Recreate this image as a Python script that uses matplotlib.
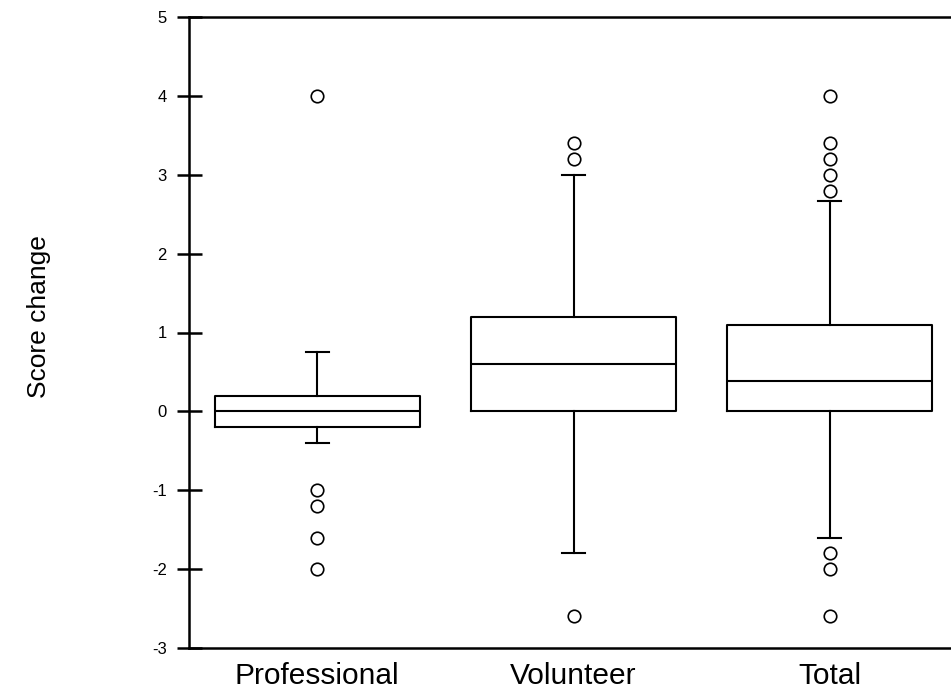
import matplotlib
matplotlib.use("Agg")
import matplotlib.pyplot as plt

plt.rcParams['font.family'] = ['Liberation Sans', 'DejaVu Sans']
plt.rcParams['axes.unicode_minus'] = False

# Box summaries
groups = ["Professional", "Volunteer", "Total"]
q1 = [-0.2, 0.0, 0.0]
med = [0.0, 0.6, 0.38]
q3 = [0.2, 1.2, 1.1]
whis_lo = [-0.4, -1.8, -1.6]
whis_hi = [0.75, 3.0, 2.67]
outliers = [
    [4.0, -1.0, -1.2, -1.6, -2.0],
    [3.4, 3.2, -2.6],
    [4.0, 3.4, 3.2, 3.0, 2.8, -1.8, -2.0, -2.6],
]

stats = []
for i, g in enumerate(groups):
    stats.append(dict(label=g, q1=q1[i], med=med[i], q3=q3[i],
                      whislo=whis_lo[i], whishi=whis_hi[i], fliers=outliers[i]))

fig = plt.figure(figsize=(9.51, 6.91), dpi=100)
ax = fig.add_axes([189/951, 43/691, 769/951, 631/691])

ax.bxp(stats, positions=[1, 2, 3], widths=0.8, capwidths=0.09,
       boxprops=dict(color='black', linewidth=1.5),
       whiskerprops=dict(color='black', linewidth=1.5),
       capprops=dict(color='black', linewidth=1.5),
       medianprops=dict(color='black', linewidth=1.5),
       flierprops=dict(marker='o', markersize=9, markerfacecolor='white',
                       markeredgecolor='black', markeredgewidth=1.2))

ax.set_xlim(0.5, 3.5)
ax.set_ylim(-3, 5)
ax.set_yticks(range(-3, 6))
ax.spines['right'].set_visible(False)
for s in ['left', 'top', 'bottom']:
    ax.spines[s].set_linewidth(1.8)
ax.tick_params(axis='y', direction='inout', length=18, width=1.8, labelsize=12, pad=7)
ax.tick_params(axis='x', length=0, labelsize=21.5, pad=10)
ax.set_ylabel("Score change", fontsize=19)
ax.yaxis.set_label_coords(-0.180, 0.526)

fig.savefig("out.png", dpi=100)
